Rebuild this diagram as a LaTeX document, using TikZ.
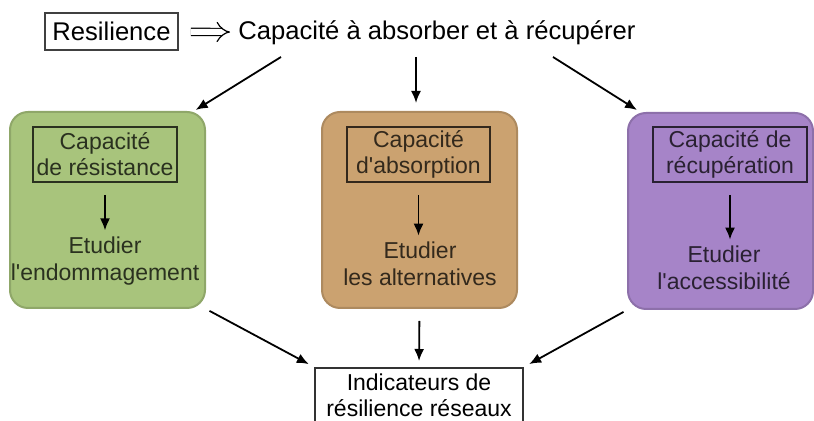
\documentclass[tikz,border=0pt]{standalone}
\usepackage{fontspec}
\setmainfont{Liberation Sans}
\usetikzlibrary{arrows.meta,positioning}
\definecolor{boxgreen}{RGB}{168,196,124}
\definecolor{boxtan}{RGB}{203,162,112}
\definecolor{boxviolet}{RGB}{166,132,200}
\tikzset{
 outerbox/.style={rounded corners=9pt,line width=1pt,minimum width=97.5pt,minimum height=98pt},
 innerbox/.style={draw,line width=.9pt,align=center,inner sep=0pt,minimum height=27.5pt,font=\fontsize{11.5}{13}\selectfont},
 studytext/.style={align=center,inner sep=1pt,font=\fontsize{11.5}{13.5}\selectfont},
 link/.style={->,line width=.9pt}
}
\begin{document}
\begin{tikzpicture}[x=.5pt,y=-.5pt,>={Latex[length=6pt,width=5pt]},font=\fontsize{12.8}{14}\selectfont]
\clip (0,0) rectangle (814,421);
\node[draw=black!75,line width=.9pt,minimum width=66.5pt,minimum height=18.5pt,inner sep=0pt] (res) at (111.5,31.5) {Resilience};
\node[anchor=west,inner sep=2pt] (cap) at (234,33) {Capacité à absorber et à récupérer};
\draw[double,double distance=3pt,line width=.6pt,-{Implies},shorten <=6pt,shorten >=2pt] (res) -- (cap);

\node[outerbox,fill=boxgreen,draw=boxgreen!85!black] (g) at (107.5,210) {};
\node[outerbox,fill=boxtan,draw=boxtan!85!black] (o) at (419.5,210) {};
\node[outerbox,fill=boxviolet,draw=boxviolet!85!black,minimum width=92.5pt] (p) at (720.5,211) {};

\node[innerbox,minimum width=72pt,draw=boxgreen!25!black,text=boxgreen!25!black] (gc) at (105,154.5) {Capacité\\de résistance};
\node[innerbox,minimum width=71.5pt,draw=boxtan!25!black,text=boxtan!25!black] (oc) at (418.5,154.5) {Capacité\\d\textquotesingle absorption};
\node[innerbox,minimum width=77pt,draw=boxviolet!25!black,text=boxviolet!25!black] (pc) at (730,154.5) {Capacité de\\récupération};

\node[studytext,text=boxgreen!25!black] (ge) at (105,261) {Etudier\\l\textquotesingle endommagement};
\node[studytext,text=boxtan!25!black] (oe) at (420,264) {Etudier\\les alternatives};
\node[studytext,text=boxviolet!25!black] (pe) at (724,268) {Etudier\\l\textquotesingle accessibilité};

\foreach \k in {g,o,p}{
 \draw[link,shorten <=6pt,shorten >=2pt] (\k c) -- (\k c |- \k e.north);
}

\node[draw=black!80,line width=.9pt,minimum width=104pt,align=center,anchor=north,inner sep=3pt,font=\fontsize{11.5}{13}\selectfont] (ind) at (419,367) {Indicateurs de\\résilience réseaux\\ };

\coordinate (t1) at (281,57);
\coordinate (t2) at (416,57);
\coordinate (t3) at (553,57);
\draw[link,shorten >=1pt] (t1) -- ([xshift=-6pt]g.north east);
\draw[link,shorten >=4pt] (t2) -- (t2 |- o.north);
\draw[link] (t3) -- ([xshift=5pt,yshift=1pt]p.north west);

\draw[link,shorten <=2pt,shorten >=3pt] (g.south east) -- (ind.north west);
\draw[link,shorten <=6pt,shorten >=3pt] (o.south) -- (ind.north);
\draw[link,shorten <=2pt,shorten >=3pt] (p.south west) -- (ind.north east);
\end{tikzpicture}
\end{document}
